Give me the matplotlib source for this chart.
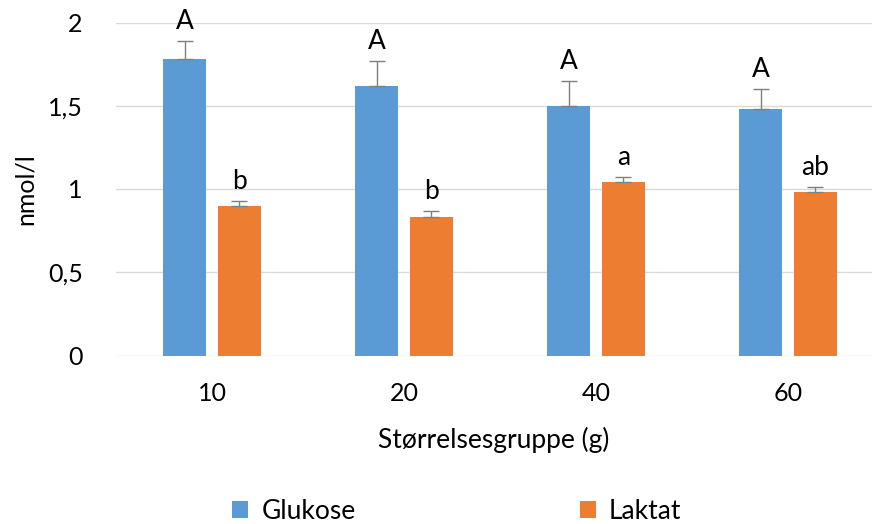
import numpy as np
import matplotlib.pyplot as plt

plt.rcParams['font.family'] = ['Lato', 'DejaVu Sans']

groups = ['10', '20', '40', '60']
glukose = [1.78, 1.62, 1.50, 1.48]
glukose_err = [0.11, 0.15, 0.15, 0.12]
laktat = [0.90, 0.83, 1.04, 0.98]
laktat_err = [0.03, 0.04, 0.03, 0.03]
glukose_sig = ['A', 'A', 'A', 'A']
laktat_sig = ['b', 'b', 'a', 'ab']

blue = '#5B9BD5'
orange = '#ED7D31'

fig = plt.figure(figsize=(8.72, 5.24), dpi=100)
ax = fig.add_axes([116/872, 1-355.5/524, 1-116/872, 333/524])

x = np.arange(len(groups))
w = 0.224
off = 0.143
ekw = dict(ecolor='#7f7f7f', elinewidth=1.0, capsize=5.5, capthick=1.0)
b1 = ax.bar(x - off, glukose, w, color=blue, label='Glukose', zorder=2)
ax.errorbar(x - off, glukose, yerr=[np.zeros(4), glukose_err], fmt='none', zorder=3, **ekw)
b2 = ax.bar(x + off, laktat, w, color=orange, label='Laktat', zorder=2)
ax.errorbar(x + off, laktat, yerr=[np.zeros(4), laktat_err], fmt='none', zorder=3, **ekw)

for i in range(len(groups)):
    ax.annotate(glukose_sig[i], (x[i] - off, glukose[i] + glukose_err[i]),
                xytext=(0, 5), textcoords='offset points', ha='center', va='bottom', fontsize=19)
    ax.annotate(laktat_sig[i], (x[i] + off, laktat[i] + laktat_err[i]),
                xytext=(0, 5), textcoords='offset points', ha='center', va='bottom', fontsize=19)

ax.set_xlim(-0.5, 3.4375)
ax.set_ylim(0, 2)
ax.set_yticks([0, 0.5, 1, 1.5, 2])
ax.set_yticklabels(['0', '0,5', '1', '1,5', '2'])
ax.set_xticks(x)
ax.set_xticklabels(groups)
ax.tick_params(axis='both', length=0, labelsize=18)
ax.tick_params(axis='x', pad=19)
ax.tick_params(axis='y', pad=24)
ax.grid(axis='y', color='#d9d9d9', linewidth=1, zorder=0)
for s in ax.spines.values():
    s.set_visible(False)
ax.set_ylabel('nmol/l', fontsize=18, labelpad=8)
ax.set_xlabel('Størrelsesgruppe (g)', fontsize=19, labelpad=16)

fig.legend(handles=[b1, b2], loc='lower center', bbox_to_anchor=(0.524, -0.045), ncol=2,
           frameon=False, fontsize=19, handlelength=0.6, handleheight=0.6,
           handletextpad=0.5, columnspacing=8.5)

fig.savefig('out.png', dpi=100)
